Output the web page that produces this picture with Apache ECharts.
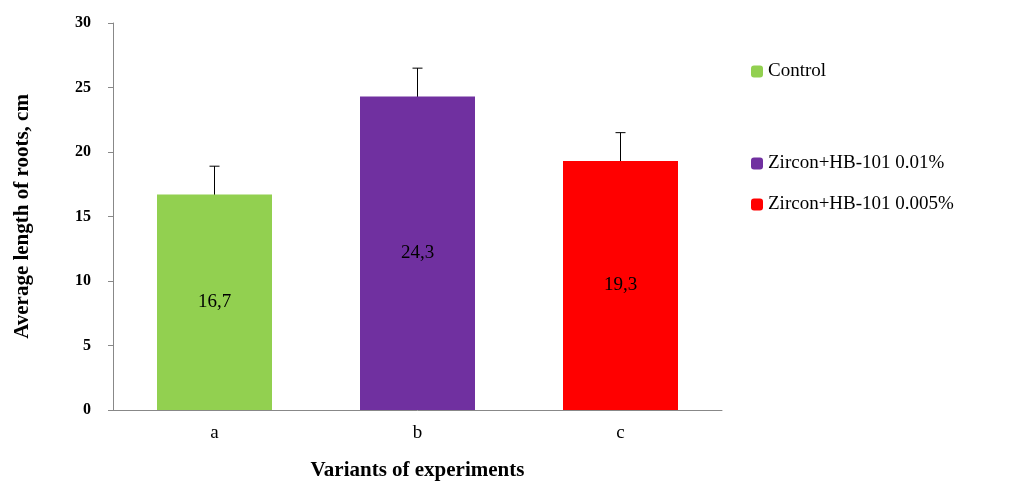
<!DOCTYPE html>
<html><head><meta charset="utf-8">
<script src="https://cdn.jsdelivr.net/npm/echarts@6/dist/echarts.min.js"></script>
<style>html,body{margin:0;background:#fff}#c{width:1013px;height:502px}</style>
</head><body><div id="c"></div>
<script>
var categories = ['a', 'b', 'c'];
var seriesNames = ['Control', 'Zircon+HB-101 0.01%', 'Zircon+HB-101 0.005%'];
var values = [16.7, 24.3, 19.3];
var errors = [2.2, 2.2, 2.2];
var colors = ['#92d050', '#7030a0', '#ff0000'];
var yTicks = [0, 5, 10, 15, 20, 25, 30];

var font = 'Liberation Serif';
var chart = echarts.init(document.getElementById('c'));

var series = seriesNames.map(function (name, i) {
  return {
    name: name, type: 'bar', stack: 's', barWidth: 115,
    itemStyle: { color: colors[i] },
    label: { show: true, position: 'inside', color: '#000', fontFamily: font, fontSize: 19,
      formatter: function (p) { return String(p.value).replace('.', ','); } },
    data: categories.map(function (c, j) { return j === i ? values[i] : '-'; })
  };
});
series.push({
  type: 'custom', silent: true,
  data: categories.map(function (c, i) { return [i, values[i] - errors[i], values[i] + errors[i]]; }),
  renderItem: function (params, api) {
    var lo = api.coord([api.value(0), api.value(1)]);
    var hi = api.coord([api.value(0), api.value(2)]);
    var s = { stroke: '#000', lineWidth: 1 };
    return { type: 'group', children: [
      { type: 'line', shape: { x1: lo[0], y1: lo[1], x2: hi[0], y2: hi[1] }, style: s },
      { type: 'line', shape: { x1: lo[0] - 5, y1: lo[1], x2: lo[0] + 5, y2: lo[1] }, style: s },
      { type: 'line', shape: { x1: hi[0] - 5, y1: hi[1], x2: hi[0] + 5, y2: hi[1] }, style: s }
    ] };
  }
});

var legendTops = [57, 149, 190];
chart.setOption({
  animation: false,
  grid: { left: 113, right: 291, top: 23, bottom: 92 },
  legend: seriesNames.map(function (n, i) {
    return { data: [n], left: 746, top: legendTops[i], itemWidth: 12, itemHeight: 12, itemGap: 4,
      textStyle: { fontFamily: font, fontSize: 19, color: '#000' } };
  }),
  xAxis: {
    type: 'category', data: categories,
    name: 'Variants of experiments', nameLocation: 'middle', nameGap: 50,
    nameTextStyle: { fontFamily: font, fontSize: 21, fontWeight: 'bold', color: '#000' },
    axisLine: { lineStyle: { color: '#888' } }, axisTick: { show: false },
    axisLabel: { fontFamily: font, fontSize: 19, color: '#000', margin: 14 }
  },
  yAxis: {
    type: 'value', min: yTicks[0], max: yTicks[yTicks.length - 1], interval: 5,
    name: 'Average length of roots, cm', nameLocation: 'middle', nameGap: 80,
    nameTextStyle: { fontFamily: font, fontSize: 21, fontWeight: 'bold', color: '#000' },
    splitLine: { show: false },
    axisLine: { show: true, lineStyle: { color: '#888' } },
    axisTick: { show: true, length: 5, lineStyle: { color: '#888' } },
    axisLabel: { fontFamily: font, fontSize: 16, fontWeight: 'bold', color: '#000', margin: 22 }
  },
  series: series
});
</script></body></html>
